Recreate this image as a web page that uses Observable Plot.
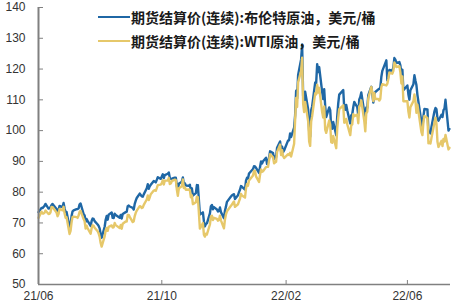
<!DOCTYPE html>
<html><head><meta charset="utf-8">
<script src="https://cdn.jsdelivr.net/npm/d3@7"></script>
<script src="https://cdn.jsdelivr.net/npm/@observablehq/plot@0.6"></script>
<style>
body{margin:0;background:#fff;}
#wrap{position:relative;width:467px;height:302px;overflow:hidden;background:#fff;}
.legend{position:absolute;left:98px;top:5px;font-family:"Noto Sans CJK SC",sans-serif;font-size:14px;color:#1a1a1a;font-weight:700;}
.row{display:flex;align-items:center;height:24px;white-space:nowrap;}
.sw{width:32px;height:2px;margin-right:1px;}
</style></head><body><div id="wrap"></div>
<script>
const dates = [
"2021-06-18","2021-06-21","2021-06-22","2021-06-23","2021-06-24","2021-06-25","2021-06-28","2021-06-29","2021-06-30",
"2021-07-01","2021-07-02","2021-07-06","2021-07-07","2021-07-08","2021-07-09","2021-07-12","2021-07-13","2021-07-14","2021-07-15","2021-07-16","2021-07-19","2021-07-20","2021-07-21","2021-07-22","2021-07-23","2021-07-26","2021-07-27","2021-07-28","2021-07-29","2021-07-30",
"2021-08-02","2021-08-03","2021-08-04","2021-08-05","2021-08-06","2021-08-09","2021-08-10","2021-08-11","2021-08-12","2021-08-13","2021-08-16","2021-08-17","2021-08-18","2021-08-19","2021-08-20","2021-08-23","2021-08-24","2021-08-25","2021-08-26","2021-08-27","2021-08-30","2021-08-31",
"2021-09-01","2021-09-02","2021-09-03","2021-09-07","2021-09-08","2021-09-09","2021-09-10","2021-09-13","2021-09-14","2021-09-15","2021-09-16","2021-09-17","2021-09-20","2021-09-21","2021-09-22","2021-09-23","2021-09-24","2021-09-27","2021-09-28","2021-09-29","2021-09-30",
"2021-10-01","2021-10-04","2021-10-05","2021-10-06","2021-10-07","2021-10-08","2021-10-11","2021-10-12","2021-10-13","2021-10-14","2021-10-15","2021-10-18","2021-10-19","2021-10-20","2021-10-21","2021-10-22","2021-10-25","2021-10-26","2021-10-27","2021-10-28","2021-10-29",
"2021-11-01","2021-11-02","2021-11-03","2021-11-04","2021-11-05","2021-11-08","2021-11-09","2021-11-10","2021-11-11","2021-11-12","2021-11-15","2021-11-16","2021-11-17","2021-11-18","2021-11-19","2021-11-22","2021-11-23","2021-11-24","2021-11-26","2021-11-29","2021-11-30",
"2021-12-01","2021-12-02","2021-12-03","2021-12-06","2021-12-07","2021-12-08","2021-12-09","2021-12-10","2021-12-13","2021-12-14","2021-12-15","2021-12-16","2021-12-17","2021-12-20","2021-12-21","2021-12-22","2021-12-23","2021-12-27","2021-12-28","2021-12-29","2021-12-30","2021-12-31",
"2022-01-03","2022-01-04","2022-01-05","2022-01-06","2022-01-07","2022-01-10","2022-01-11","2022-01-12","2022-01-13","2022-01-14","2022-01-18","2022-01-19","2022-01-20","2022-01-21","2022-01-24","2022-01-25","2022-01-26","2022-01-27","2022-01-28","2022-01-31",
"2022-02-01","2022-02-02","2022-02-03","2022-02-04","2022-02-07","2022-02-08","2022-02-09","2022-02-10","2022-02-11","2022-02-14","2022-02-15","2022-02-16","2022-02-17","2022-02-18","2022-02-22","2022-02-23","2022-02-24","2022-02-25","2022-02-28",
"2022-03-01","2022-03-02","2022-03-03","2022-03-04","2022-03-07","2022-03-08","2022-03-09","2022-03-10","2022-03-11","2022-03-14","2022-03-15","2022-03-16","2022-03-17","2022-03-18","2022-03-21","2022-03-22","2022-03-23","2022-03-24","2022-03-25","2022-03-28","2022-03-29","2022-03-30","2022-03-31",
"2022-04-01","2022-04-04","2022-04-05","2022-04-06","2022-04-07","2022-04-08","2022-04-11","2022-04-12","2022-04-13","2022-04-14","2022-04-18","2022-04-19","2022-04-20","2022-04-21","2022-04-22","2022-04-25","2022-04-26","2022-04-27","2022-04-28","2022-04-29",
"2022-05-02","2022-05-03","2022-05-04","2022-05-05","2022-05-06","2022-05-09","2022-05-10","2022-05-11","2022-05-12","2022-05-13","2022-05-16","2022-05-17","2022-05-18","2022-05-19","2022-05-20","2022-05-23","2022-05-24","2022-05-25","2022-05-26","2022-05-27","2022-05-31",
"2022-06-01","2022-06-02","2022-06-03","2022-06-06","2022-06-07","2022-06-08","2022-06-09","2022-06-10","2022-06-13","2022-06-14","2022-06-15","2022-06-16","2022-06-17","2022-06-21","2022-06-22","2022-06-23","2022-06-24","2022-06-27","2022-06-28","2022-06-29","2022-06-30",
"2022-07-01","2022-07-05","2022-07-06","2022-07-07","2022-07-08","2022-07-11","2022-07-12","2022-07-13","2022-07-14","2022-07-15","2022-07-18","2022-07-19","2022-07-20","2022-07-21","2022-07-22","2022-07-25","2022-07-26","2022-07-27","2022-07-28","2022-07-29",
"2022-08-01","2022-08-02"
];
const brent = [
73.51,74.90,74.81,75.19,75.56,76.18,74.68,74.76,75.13,
75.84,76.17,74.53,73.43,74.12,75.55,75.16,76.49,74.76,73.47,73.59,68.62,69.35,72.23,73.79,74.10,74.50,74.48,74.74,76.05,76.33,
72.89,72.41,70.38,71.29,70.70,69.04,70.63,71.44,71.31,70.59,69.51,69.03,68.23,66.45,65.18,68.75,71.05,72.25,71.07,72.70,73.41,71.63,
71.59,73.03,72.61,71.69,72.60,71.45,72.92,73.51,73.60,75.46,75.67,75.34,74.92,74.36,76.19,77.25,78.09,79.53,79.09,78.64,78.52,
79.28,81.26,82.56,81.08,81.95,82.39,83.65,83.42,83.18,84.00,84.86,84.33,85.08,85.82,84.61,85.53,85.99,86.40,84.58,84.32,84.38,
84.71,84.72,81.99,80.54,82.74,83.43,84.78,82.64,82.87,82.17,82.05,82.43,80.28,81.24,78.89,79.70,82.31,82.25,72.72,73.44,70.57,
68.87,69.67,69.88,73.08,75.44,75.82,74.42,75.15,74.39,73.70,73.88,75.02,73.52,71.52,73.98,75.29,76.85,78.60,78.94,79.23,79.32,77.78,
78.98,80.00,80.80,81.99,81.75,80.87,83.72,84.67,84.47,86.06,87.51,88.44,88.38,87.89,86.27,88.20,89.96,89.34,90.03,91.21,
89.16,89.47,91.11,93.27,92.69,90.78,91.55,91.41,94.44,96.48,93.28,94.81,92.97,93.54,96.84,96.84,99.08,97.93,100.99,
104.97,112.93,110.46,118.11,123.21,127.98,111.14,109.33,112.67,106.90,99.91,98.02,106.64,107.93,115.62,115.48,121.60,119.03,120.65,112.48,110.23,113.45,107.91,
104.39,107.53,106.64,101.07,100.58,102.78,98.48,104.64,108.78,111.70,113.16,107.25,106.80,108.33,106.65,102.32,104.99,105.32,107.59,109.34,
107.58,104.97,110.14,110.90,112.39,105.94,102.46,107.51,107.45,111.55,114.24,111.93,109.11,112.04,112.55,113.42,113.56,114.03,117.40,119.43,122.84,
116.29,117.61,119.72,119.51,120.57,123.58,123.07,122.01,122.27,121.17,118.51,119.81,113.12,114.65,111.74,110.05,113.12,115.09,117.98,116.26,114.81,
111.63,102.77,100.69,104.65,107.02,106.90,99.49,99.57,99.10,101.16,106.27,107.35,106.92,103.86,103.20,105.15,104.40,106.62,107.14,110.01,
100.03,100.54
];
const wti = [
71.64,73.66,73.06,73.08,73.30,74.05,72.91,72.98,73.47,
75.23,75.16,73.37,72.20,72.94,74.56,74.10,75.25,73.13,71.65,71.81,66.42,67.42,70.30,71.91,72.07,71.91,71.65,72.39,73.62,73.95,
71.26,70.56,68.15,69.09,68.28,66.48,68.29,69.25,69.09,68.44,67.29,66.59,65.46,63.50,62.32,65.64,67.54,68.36,67.42,68.74,69.21,68.50,
68.59,69.99,69.29,68.35,69.30,68.14,69.72,70.45,70.46,72.61,72.61,71.97,70.29,70.56,72.23,73.30,73.98,75.45,75.29,74.83,75.03,
75.88,77.62,78.93,77.43,78.30,79.35,80.52,80.64,80.44,81.31,82.28,82.44,82.96,83.87,82.50,83.76,83.76,84.65,82.66,82.81,83.57,
84.05,83.91,80.86,78.81,81.27,81.93,84.15,81.34,81.59,80.79,80.88,80.76,78.36,79.01,76.10,76.75,78.50,78.39,68.15,69.95,66.18,
65.57,66.50,66.26,69.49,72.05,72.36,70.94,71.67,71.29,70.73,70.87,72.38,70.86,68.23,71.12,72.76,73.79,75.57,75.98,76.56,76.99,75.21,
76.08,76.99,77.85,79.46,78.90,78.23,81.22,82.64,82.12,83.82,85.43,86.96,86.90,85.14,83.31,85.60,87.35,86.61,86.82,88.15,
88.20,88.26,90.27,92.31,91.32,89.36,89.66,89.88,93.10,95.46,92.07,93.66,91.76,91.07,92.35,92.10,92.81,91.59,95.72,
103.41,110.60,107.67,115.68,119.40,123.70,108.70,106.02,109.33,103.01,96.44,95.04,102.98,104.70,112.12,111.76,114.93,112.34,113.90,105.96,104.24,107.82,100.28,
99.27,103.28,101.96,96.23,96.03,98.26,94.29,100.60,104.25,106.95,108.21,102.56,102.75,103.79,102.07,98.54,101.70,102.02,105.36,104.69,
105.17,102.41,107.81,108.26,109.77,103.09,99.76,105.71,106.13,110.49,114.20,112.40,109.59,112.21,110.28,110.29,109.77,110.33,114.09,115.07,114.67,
115.26,116.87,118.87,118.50,119.41,122.11,121.51,120.67,120.93,118.93,115.31,117.59,109.56,109.52,106.19,104.27,107.62,109.57,111.76,109.78,105.76,
108.43,99.50,98.53,102.73,104.79,104.09,95.84,96.30,95.78,97.59,102.60,104.22,102.26,96.35,94.70,96.70,94.98,97.26,96.42,98.62,
93.89,94.42
];
const seriesNames = ["期货结算价(连续):布伦特原油，美元/桶", "期货结算价(连续):WTI原油，美元/桶"];
const seriesColors = ["#1f67a5", "#e6c86a"];
const yTicks = [50, 60, 70, 80, 90, 100, 110, 120, 130, 140];
const xTickDates = ["2021-06-18", "2021-10-19", "2022-02-20", "2022-06-21"];
const xDomain = ["2021-06-18", "2022-08-03"];

const data = dates.map((d, i) => ({date: new Date(d), brent: brent[i], wti: wti[i]}));

const chart = Plot.plot({
  width: 467, height: 302,
  marginLeft: 38, marginRight: 17, marginTop: 7, marginBottom: 18,
  style: {fontFamily: "'Liberation Sans', Arial, sans-serif", fontSize: "12px", color: "#333", background: "#fff"},
  x: {type: "utc", domain: xDomain.map(d => new Date(d))},
  y: {domain: [50, 140]},
  marks: [
    Plot.lineY(data, {x: "date", y: "brent", stroke: seriesColors[0], strokeWidth: 2.4}),
    Plot.lineY(data, {x: "date", y: "wti", stroke: seriesColors[1], strokeWidth: 2.4}),
    Plot.axisY({ticks: yTicks, tickSize: -5, tickPadding: 18, stroke: "#808080", fill: "#333", label: null}),
    Plot.axisX({ticks: xTickDates.map(d => new Date(d)), tickFormat: d3.utcFormat("%y/%m"), tickSize: -4, tickPadding: 11, stroke: "#808080", fill: "#333", label: null}),
    Plot.ruleX([new Date(xDomain[0])], {stroke: "#808080", strokeWidth: 2}),
    Plot.ruleY([50], {stroke: "#808080", strokeWidth: 1.5})
  ]
});
const wrap = document.getElementById("wrap");
wrap.appendChild(chart);
const legend = document.createElement("div");
legend.className = "legend";
seriesNames.forEach((name, i) => {
  const row = document.createElement("div");
  row.className = "row";
  const sw = document.createElement("span");
  sw.className = "sw";
  sw.style.background = seriesColors[i];
  const t = document.createElement("span");
  t.textContent = name;
  row.appendChild(sw); row.appendChild(t);
  legend.appendChild(row);
});
wrap.appendChild(legend);
</script></body></html>
